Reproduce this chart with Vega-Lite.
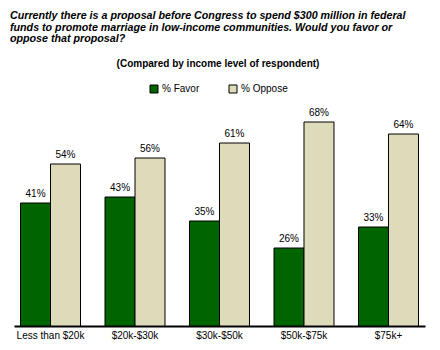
{
  "$schema": "https://vega.github.io/schema/vega-lite/v6.json",
  "autosize": "none",
  "width": 411,
  "height": 210,
  "padding": {"left": 14, "right": 15, "top": 116, "bottom": 24},
  "background": "white",
  "title": {
    "text": ["Currently there is a proposal before Congress to spend $300 million in federal", "funds to promote marriage in low-income communities.  Would you favor or", "oppose that proposal?"],
    "anchor": "start",
    "frame": "group",
    "dx": -4,
    "offset": 14,
    "font": "Liberation Sans",
    "fontSize": 10.7,
    "fontWeight": "bold",
    "fontStyle": "italic",
    "lineHeight": 11.7,
    "color": "black"
  },
  "data": {
    "values": [
      {"income": "Less than $20k", "series": "% Favor", "value": 0.41},
      {"income": "Less than $20k", "series": "% Oppose", "value": 0.54},
      {"income": "$20k-$30k", "series": "% Favor", "value": 0.43},
      {"income": "$20k-$30k", "series": "% Oppose", "value": 0.56},
      {"income": "$30k-$50k", "series": "% Favor", "value": 0.35},
      {"income": "$30k-$50k", "series": "% Oppose", "value": 0.61},
      {"income": "$50k-$75k", "series": "% Favor", "value": 0.26},
      {"income": "$50k-$75k", "series": "% Oppose", "value": 0.68},
      {"income": "$75k+", "series": "% Favor", "value": 0.33},
      {"income": "$75k+", "series": "% Oppose", "value": 0.64}
    ]
  },
  "encoding": {
    "x": {
      "field": "income", "type": "nominal", "sort": null,
      "scale": {"paddingInner": 0.29, "paddingOuter": 0.077},
      "axis": {"title": null, "labelAngle": 0, "ticks": false, "domainColor": "black", "domainWidth": 2, "labelFont": "Liberation Sans", "labelFontSize": 10, "labelColor": "black", "labelPadding": 4}
    },
    "xOffset": {"field": "series", "type": "nominal", "scale": {"paddingInner": 0, "paddingOuter": 0}},
    "y": {"field": "value", "type": "quantitative", "scale": {"domain": [0, 0.7]}, "axis": null}
  },
  "layer": [
    {
      "mark": {"type": "bar", "stroke": "black", "strokeWidth": 1},
      "encoding": {
        "color": {
          "field": "series", "type": "nominal",
          "scale": {"domain": ["% Favor", "% Oppose"], "range": ["#006400", "#dddbb9"]},
          "legend": {
            "title": "(Compared by income level of respondent)",
            "orient": "none",
            "direction": "horizontal",
            "legendX": 103,
            "legendY": -57,
            "titleAnchor": "middle",
            "titleLimit": 400,
            "titleFont": "Liberation Sans",
            "titleFontSize": 10,
            "titleFontWeight": "bold",
            "titleColor": "black",
            "titlePadding": 15,
            "labelFont": "Liberation Sans",
            "labelFontSize": 10,
            "labelColor": "black",
            "labelOffset": 3,
            "symbolType": "square",
            "symbolSize": 64,
            "symbolStrokeColor": "black",
            "symbolStrokeWidth": 1,
            "columnPadding": 27
          }
        }
      }
    },
    {
      "mark": {"type": "text", "dy": -4, "font": "Liberation Sans", "fontSize": 10, "color": "black", "baseline": "bottom"},
      "encoding": {"text": {"field": "value", "type": "quantitative", "format": ".0%"}}
    }
  ],
  "config": {"view": {"stroke": null}}
}
